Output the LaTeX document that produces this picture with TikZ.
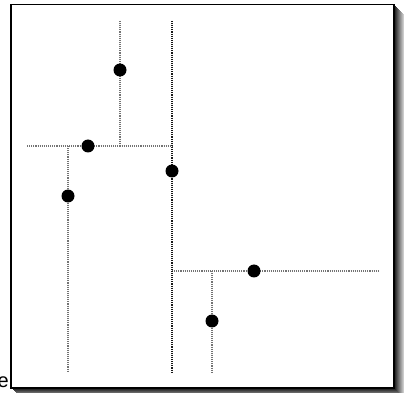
\documentclass[tikz,border=0pt]{standalone}
\usepackage{fontspec}
\setmainfont{Liberation Sans}
\begin{document}
\begin{tikzpicture}[x=1pt,y=-1pt,
  split/.style={line width=1.1pt, densely dotted, black!90},
  subsplit/.style={line width=1.1pt, densely dotted, black!55},
  pt/.style={circle, fill=black, inner sep=0pt, minimum size=13pt}]
\useasboundingbox (0,0) rectangle (405,393);
% drop shadow of the frame, fading outward
\foreach \i in {10,9,...,1}{
  \pgfmathsetmacro{\shade}{100-8*\i}
  \fill[black!\shade] (11+\i,4.5+\i) rectangle (394+\i,388+\i);
}
\filldraw[fill=white, draw=black, line width=1.6pt] (11,4.5) rectangle (394,388);
% stray caption letter at the left edge
\node[anchor=east, inner sep=0pt, font=\fontsize{20}{20}\selectfont] (cap) at (9,382) {e};
% split lines
\coordinate (a1) at (172,21);  \coordinate (a2) at (172,372);
\coordinate (b1) at (27,146);  \coordinate (b2) at (172,146);
\coordinate (c1) at (120,21);  \coordinate (c2) at (120,146);
\coordinate (d1) at (68,146);  \coordinate (d2) at (68,372);
\coordinate (e1) at (172,271); \coordinate (e2) at (378,271);
\coordinate (f1) at (212,271); \coordinate (f2) at (212,372);
\draw[subsplit] (b1) -- (b2);
\draw[subsplit] (c1) -- (c2);
\draw[subsplit] (d1) -- (d2);
\draw[subsplit] (e1) -- (e2);
\draw[subsplit] (f1) -- (f2);
\draw[split] (a1) -- (a2);
% data points
\node[pt] (p1) at (120,70) {};
\node[pt] (p2) at (88,146) {};
\node[pt] (p3) at (68,196) {};
\node[pt] (p4) at (172,171) {};
\node[pt] (p5) at (254,271) {};
\node[pt] (p6) at (212,321) {};
\end{tikzpicture}
\end{document}
